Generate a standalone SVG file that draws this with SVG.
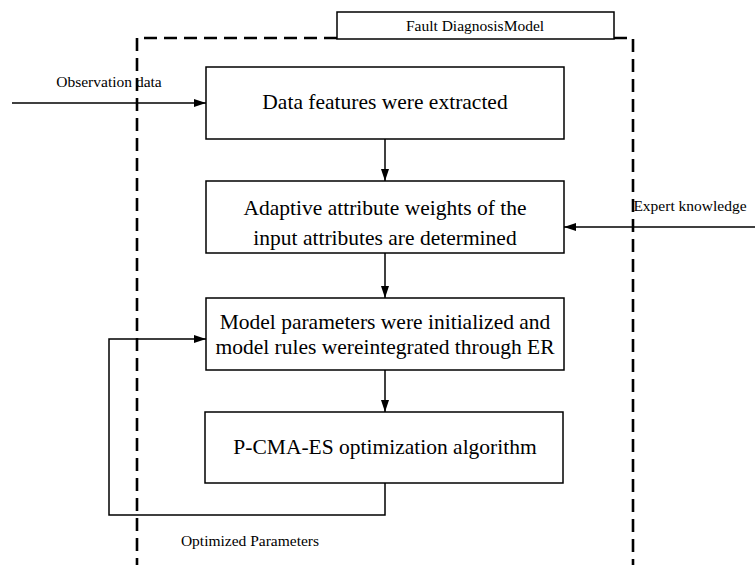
<svg xmlns="http://www.w3.org/2000/svg" width="755" height="565" viewBox="0 0 755 565">
<style>
.box{fill:#fff;stroke:#000;stroke-width:1.5}
.big{font-family:"Liberation Serif",serif;font-size:21.5px;fill:#000;text-anchor:middle}
.small{font-family:"Liberation Serif",serif;font-size:15.5px;fill:#000;text-anchor:middle}
.line{fill:none;stroke:#000;stroke-width:1.5}
.dash{fill:none;stroke:#000;stroke-width:2.6;stroke-dasharray:13 7}
</style>
<defs>
<marker id="arr" markerWidth="12" markerHeight="8" refX="12" refY="4" orient="auto" markerUnits="userSpaceOnUse">
<path d="M0,0 L12,4 L0,8 Z" fill="#000"/>
</marker>
</defs>
<g id="boundary">
<path class="dash" d="M337,38 H137 V565"/>
<path class="dash" d="M614,38 H633 V565"/>
</g>
<g id="title">
<rect class="box" x="337" y="12" width="277" height="27"/>
<text class="small" x="475" y="31">Fault DiagnosisModel</text>
</g>
<g id="n1">
<rect class="box" x="206" y="67" width="358" height="72"/>
<text class="big" x="385" y="109">Data features were extracted</text>
</g>
<g id="n2">
<rect class="box" x="206" y="181" width="358" height="72"/>
<text class="big" x="385" y="215">Adaptive attribute weights of the</text>
<text class="big" x="385" y="245">input attributes are determined</text>
</g>
<g id="n3">
<rect class="box" x="206" y="298" width="358" height="72"/>
<text class="big" x="385" y="329">Model parameters were initialized and</text>
<text class="big" x="385" y="354">model rules wereintegrated through ER</text>
</g>
<g id="n4">
<rect class="box" x="205" y="412" width="358" height="71"/>
<text class="big" x="385" y="454">P-CMA-ES optimization algorithm</text>
</g>
<g id="connectors">
<path class="line" d="M12,103 H206" marker-end="url(#arr)"/>
<path class="line" d="M755,227 H564" marker-end="url(#arr)"/>
<path class="line" d="M385,139 V181" marker-end="url(#arr)"/>
<path class="line" d="M385,253 V298" marker-end="url(#arr)"/>
<path class="line" d="M385,370 V412" marker-end="url(#arr)"/>
<path class="line" d="M385,483 V515 H109 V339 H206" marker-end="url(#arr)"/>
</g>
<g id="labels">
<text class="small" x="109" y="87">Observation data</text>
<text class="small" x="690" y="211">Expert knowledge</text>
<text class="small" x="250" y="546">Optimized Parameters</text>
</g>
</svg>
